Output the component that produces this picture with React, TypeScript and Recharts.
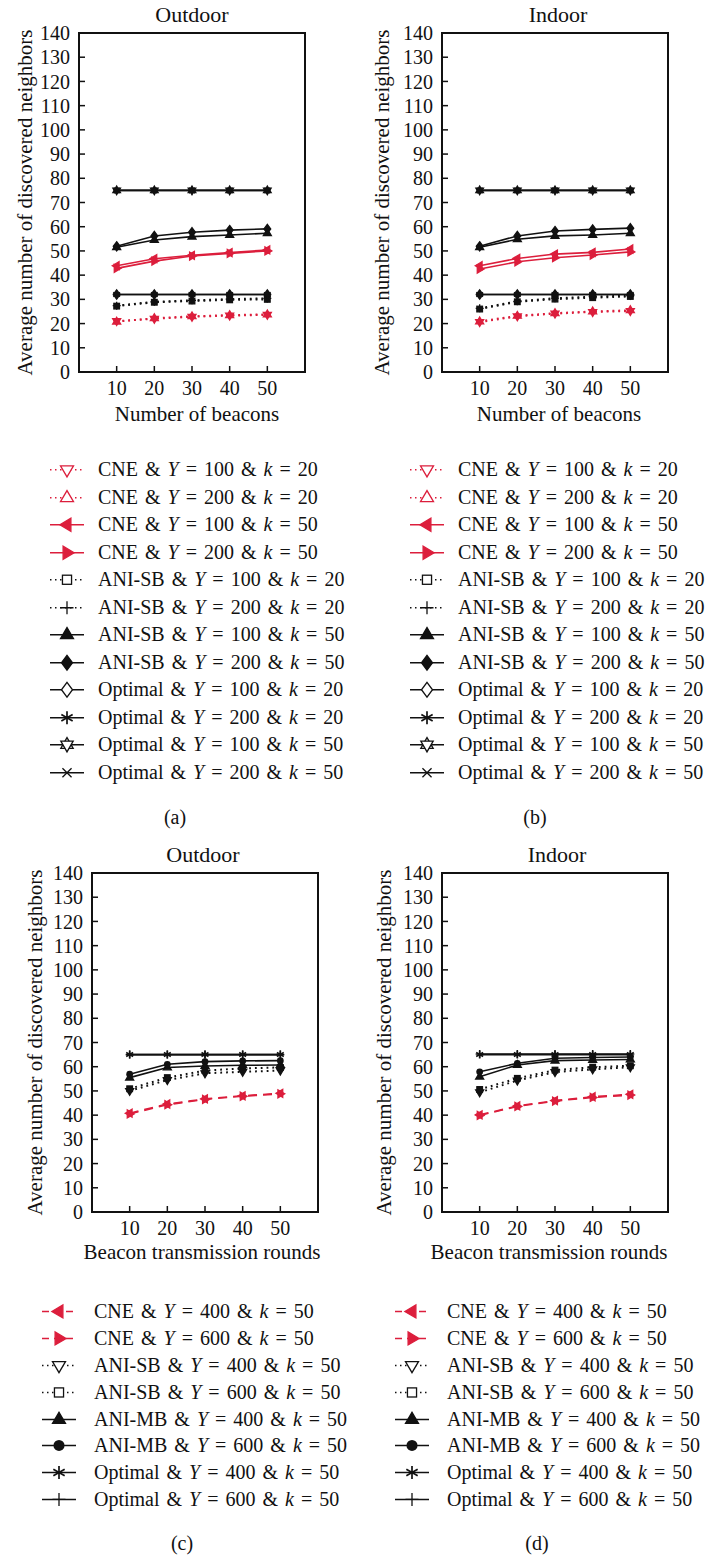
import React from 'react';
import { LineChart, Line, XAxis, YAxis, ReferenceArea, Legend, Label } from 'recharts';

const RED = '#dc1e3c';
const INK = '#111111';
const FONT = '"Liberation Serif", "Times New Roman", serif';

const beacons = [10, 20, 30, 40, 50];
const rounds = [10, 20, 30, 40, 50];
const yTicks = [0, 10, 20, 30, 40, 50, 60, 70, 80, 90, 100, 110, 120, 130, 140];

// (a) outdoor, vs number of beacons
const aCneY100k20 = [21.0, 22.0, 22.8, 23.3, 23.6];
const aCneY200k20 = [20.8, 22.2, 23.0, 23.5, 23.8];
const aCneY100k50 = [43.9, 46.8, 48.2, 49.3, 50.4];
const aCneY200k50 = [42.8, 45.8, 47.9, 49.0, 50.0];
const aAniY100k20 = [27.2, 28.8, 29.3, 29.8, 30.0];
const aAniY200k20 = [27.4, 29.0, 29.6, 30.1, 30.4];
const aAniY100k50 = [51.5, 54.5, 55.9, 56.6, 57.3];
const aAniY200k50 = [51.9, 56.2, 57.7, 58.6, 59.1];
const aOptY100k20 = [32, 32, 32, 32, 32];
const aOptY200k20 = [32, 32, 32, 32, 32];
const aOptY100k50 = [75, 75, 75, 75, 75];
const aOptY200k50 = [75, 75, 75, 75, 75];

// (b) indoor, vs number of beacons
const bCneY100k20 = [20.6, 23.0, 24.1, 24.8, 25.2];
const bCneY200k20 = [20.9, 23.2, 24.3, 25.0, 25.5];
const bCneY100k50 = [43.9, 46.9, 48.7, 49.4, 50.8];
const bCneY200k50 = [42.5, 45.5, 47.2, 48.3, 49.6];
const bAniY100k20 = [26.0, 29.0, 30.1, 30.7, 31.2];
const bAniY200k20 = [26.3, 29.2, 30.5, 31.1, 31.6];
const bAniY100k50 = [51.5, 54.8, 56.2, 56.6, 57.3];
const bAniY200k50 = [51.9, 56.2, 58.2, 58.9, 59.4];
const bOptY100k20 = [32, 32, 32, 32, 32];
const bOptY200k20 = [32, 32, 32, 32, 32];
const bOptY100k50 = [75, 75, 75, 75, 75];
const bOptY200k50 = [75, 75, 75, 75, 75];

// (c) outdoor, vs beacon transmission rounds
const cCneY400 = [40.8, 44.6, 46.7, 48.0, 49.0];
const cCneY600 = [40.5, 44.3, 46.5, 47.8, 48.8];
const cSbY400 = [50.0, 54.5, 57.3, 57.9, 58.4];
const cSbY600 = [50.9, 55.5, 58.4, 59.3, 59.7];
const cMbY400 = [55.5, 59.7, 60.3, 60.6, 60.7];
const cMbY600 = [56.9, 61.0, 62.1, 62.4, 62.5];
const cOptY400 = [65, 65, 65, 65, 65];
const cOptY600 = [65, 65, 65, 65, 65];

// (d) indoor, vs beacon transmission rounds
const dCneY400 = [40.1, 43.8, 46.0, 47.6, 48.6];
const dCneY600 = [39.9, 43.6, 45.8, 47.3, 48.3];
const dSbY400 = [49.4, 54.3, 57.8, 58.9, 59.8];
const dSbY600 = [50.6, 55.2, 58.6, 59.8, 60.4];
const dMbY400 = [55.9, 60.7, 62.5, 62.8, 63.0];
const dMbY600 = [57.9, 61.4, 63.5, 63.8, 64.0];
const dOptY400 = [65, 65, 65, 65, 65];
const dOptY600 = [65.2, 65.2, 65.2, 65.2, 65.2];

const methodsAB = ['CNE', 'CNE', 'CNE', 'CNE', 'ANI-SB', 'ANI-SB', 'ANI-SB', 'ANI-SB', 'Optimal', 'Optimal', 'Optimal', 'Optimal'];
const gammaAB = [100, 200, 100, 200, 100, 200, 100, 200, 100, 200, 100, 200];
const kAB = [20, 20, 50, 50, 20, 20, 50, 50, 20, 20, 50, 50];
const methodsCD = ['CNE', 'CNE', 'ANI-SB', 'ANI-SB', 'ANI-MB', 'ANI-MB', 'Optimal', 'Optimal'];
const gammaCD = [400, 600, 400, 600, 400, 600, 400, 600];
const kCD = [50, 50, 50, 50, 50, 50, 50, 50];

type Shape =
  | 'triDown' | 'triUp' | 'triUpFilled' | 'triLeft' | 'triRight' | 'square' | 'plus'
  | 'diamond' | 'diamondFilled' | 'asterisk' | 'hexagram' | 'cross' | 'circle';
type Dash = 'solid' | 'dot' | 'dash';
type SeriesStyle = { color: string; dash: Dash; shape: Shape };

const stylesAB: SeriesStyle[] = [
  { color: RED, dash: 'dot', shape: 'triDown' },
  { color: RED, dash: 'dot', shape: 'triUp' },
  { color: RED, dash: 'solid', shape: 'triLeft' },
  { color: RED, dash: 'solid', shape: 'triRight' },
  { color: INK, dash: 'dot', shape: 'square' },
  { color: INK, dash: 'dot', shape: 'plus' },
  { color: INK, dash: 'solid', shape: 'triUpFilled' },
  { color: INK, dash: 'solid', shape: 'diamondFilled' },
  { color: INK, dash: 'solid', shape: 'diamond' },
  { color: INK, dash: 'solid', shape: 'asterisk' },
  { color: INK, dash: 'solid', shape: 'hexagram' },
  { color: INK, dash: 'solid', shape: 'cross' },
];

const stylesCD: SeriesStyle[] = [
  { color: RED, dash: 'dash', shape: 'triLeft' },
  { color: RED, dash: 'dash', shape: 'triRight' },
  { color: INK, dash: 'dot', shape: 'triDown' },
  { color: INK, dash: 'dot', shape: 'square' },
  { color: INK, dash: 'solid', shape: 'triUpFilled' },
  { color: INK, dash: 'solid', shape: 'circle' },
  { color: INK, dash: 'solid', shape: 'asterisk' },
  { color: INK, dash: 'solid', shape: 'plus' },
];

const chartDash: Record<Dash, string | undefined> = { solid: undefined, dot: '1.8 4', dash: '9 6' };
const legendDash: Record<Dash, string | undefined> = { solid: undefined, dot: '1.5 3.5', dash: '7 5' };

function Marker({ shape, cx, cy, r, color, hollow }: { shape: Shape; cx: number; cy: number; r: number; color: string; hollow: string }) {
  const sw = 1.3;
  const poly = (pts: number[][], filled: boolean) => (
    <polygon
      points={pts.map((p) => `${cx + p[0] * r},${cy + p[1] * r}`).join(' ')}
      fill={filled ? color : hollow}
      stroke={color}
      strokeWidth={sw}
    />
  );
  switch (shape) {
    case 'triDown': return poly([[-1, -0.6], [1, -0.6], [0, 1.1]], false);
    case 'triUp': return poly([[-1, 0.6], [1, 0.6], [0, -1.1]], false);
    case 'triUpFilled': return poly([[-1, 0.6], [1, 0.6], [0, -1.1]], true);
    case 'triLeft': return poly([[-1.1, 0], [0.6, -1], [0.6, 1]], true);
    case 'triRight': return poly([[1.1, 0], [-0.6, -1], [-0.6, 1]], true);
    case 'diamond': return poly([[0, -1.15], [0.85, 0], [0, 1.15], [-0.85, 0]], false);
    case 'diamondFilled': return poly([[0, -1.15], [0.85, 0], [0, 1.15], [-0.85, 0]], true);
    case 'square':
      return <rect x={cx - 0.7 * r} y={cy - 0.7 * r} width={1.4 * r} height={1.4 * r} fill={hollow} stroke={color} strokeWidth={sw} />;
    case 'circle':
      return <circle cx={cx} cy={cy} r={0.85 * r} fill={color} />;
    case 'plus':
      return <path d={`M${cx - r},${cy}H${cx + r}M${cx},${cy - r}V${cy + r}`} stroke={color} strokeWidth={sw} />;
    case 'cross': {
      const a = 0.7 * r;
      return <path d={`M${cx - a},${cy - a}L${cx + a},${cy + a}M${cx - a},${cy + a}L${cx + a},${cy - a}`} stroke={color} strokeWidth={sw} />;
    }
    case 'asterisk': {
      const dx = 0.87 * r;
      const dy = 0.5 * r;
      return (
        <path
          d={`M${cx},${cy - r}V${cy + r}M${cx - dx},${cy - dy}L${cx + dx},${cy + dy}M${cx - dx},${cy + dy}L${cx + dx},${cy - dy}`}
          stroke={color}
          strokeWidth={sw + 0.4}
        />
      );
    }
    case 'hexagram':
      return (
        <g>
          {poly([[0, -1.1], [0.95, 0.55], [-0.95, 0.55]], false)}
          {poly([[0, 1.1], [0.95, -0.55], [-0.95, -0.55]], false)}
        </g>
      );
    default:
      return null;
  }
}

function LegendList({ styles, methods, gammas, ks, rowH, gap }: { styles: SeriesStyle[]; methods: string[]; gammas: number[]; ks: number[]; rowH: number; gap: number }) {
  return (
    <div style={{ fontFamily: FONT, fontSize: 20, color: INK }}>
      {styles.map((st, i) => (
        <div key={i} style={{ display: 'flex', alignItems: 'center', height: rowH, whiteSpace: 'nowrap' }}>
          <svg width={34} height={rowH} style={{ flex: 'none', marginRight: gap }}>
            <line x1={0} x2={34} y1={rowH / 2} y2={rowH / 2} stroke={st.color} strokeWidth={1.5} strokeDasharray={legendDash[st.dash]} />
            <Marker shape={st.shape} cx={17} cy={rowH / 2} r={6.5} color={st.color} hollow="#fff" />
          </svg>
          <span style={{ wordSpacing: 2 }}>
            {methods[i]}{' & '}<i>Y</i>{' = '}{gammas[i]}{' & '}<i>k</i>{' = '}{ks[i]}
          </span>
        </div>
      ))}
    </div>
  );
}

type Geo = {
  px: number; py: number; ch: number;
  plotL: number; plotR: number; plotT: number; plotB: number;
  titleX: number; titleY: number; yLabX: number; xLabX: number; xLabY: number;
  legL: number; legT: number; rowH: number; gap: number; capX: number; capY: number;
};

const CW = 354;
const YW = 60;
const XH = 30;

const geoA: Geo = { px: 0, py: 0, ch: 800, plotL: 79, plotR: 305, plotT: 33, plotB: 372, titleX: 192, titleY: 15, yLabX: 25, xLabX: 197, xLabY: 415, legL: 50, legT: 456, rowH: 27.5, gap: 14, capX: 175, capY: 817 };
const geoB: Geo = { px: 354, py: 0, ch: 800, plotL: 442, plotR: 668, plotT: 33, plotB: 372, titleX: 558, titleY: 15, yLabX: 382, xLabX: 559, xLabY: 415, legL: 410, legT: 456, rowH: 27.5, gap: 14, capX: 535, capY: 817 };
const geoC: Geo = { px: 0, py: 830, ch: 720, plotL: 92, plotR: 318, plotT: 873, plotB: 1212, titleX: 203, titleY: 855, yLabX: 35, xLabX: 202, xLabY: 1253, legL: 42, legT: 1298, rowH: 26.9, gap: 18, capX: 182, capY: 1543 };
const geoD: Geo = { px: 354, py: 830, ch: 720, plotL: 442, plotR: 668, plotT: 873, plotB: 1212, titleX: 557, titleY: 855, yLabX: 384, xLabX: 549, xLabY: 1253, legL: 395, legT: 1298, rowH: 26.9, gap: 18, capX: 537, capY: 1543 };

const tickStyle = { fill: INK, fontSize: 20, fontFamily: FONT };

function Panel({ geo, xs, series, styles, methods, gammas, ks, title, xTitle, caption }: {
  geo: Geo; xs: number[]; series: number[][]; styles: SeriesStyle[]; methods: string[]; gammas: number[]; ks: number[];
  title: string; xTitle: string; caption: string;
}) {
  const rows = xs.map((x, i) => {
    const r: Record<string, number> = { x };
    series.forEach((s, j) => { r[`s${j}`] = s[i]; });
    return r;
  });
  const margin = {
    top: geo.plotT - geo.py,
    left: geo.plotL - geo.px - YW,
    right: geo.px + CW - geo.plotR,
    bottom: geo.ch - (geo.plotB - geo.py) - XH,
  };
  const textBox = (cx: number, cy: number, size: number) => ({
    position: 'absolute' as const, left: cx - 150, top: cy - 12, width: 300, textAlign: 'center' as const,
    fontFamily: FONT, fontSize: size, lineHeight: '24px', color: INK,
  });
  return (
    <>
      <div style={textBox(geo.titleX, geo.titleY, 22)}>{title}</div>
      <div style={{ position: 'absolute', left: geo.px, top: geo.py }}>
        <LineChart width={CW} height={geo.ch} data={rows} margin={margin}>
          <ReferenceArea x1={0} x2={60} y1={0} y2={140} fill="none" stroke={INK} strokeWidth={2} />
          <XAxis
            dataKey="x" type="number" domain={[0, 60]} ticks={xs} interval={0} height={XH}
            axisLine={false} tickLine={{ stroke: INK, strokeWidth: 1.5 }} tickSize={-6} tickMargin={15} tick={tickStyle}
          >
            <Label
              content={() => {
                const x = geo.xLabX - geo.px;
                const y = geo.xLabY - geo.py + 6;
                return (
                  <text x={x} y={y} textAnchor="middle" fill={INK} fontSize={21} fontFamily={FONT}>
                    {xTitle}
                  </text>
                );
              }}
            />
          </XAxis>
          <YAxis
            domain={[0, 140]} ticks={yTicks} interval={0} width={YW}
            axisLine={false} tickLine={{ stroke: INK, strokeWidth: 1.5 }} tickSize={-6} tickMargin={15} tick={tickStyle}
          >
            <Label
              content={(p: any) => {
                const vb = p.viewBox;
                const x = geo.yLabX - geo.px;
                const y = vb ? vb.y + vb.height / 2 : (geo.plotT + geo.plotB) / 2 - geo.py;
                return (
                  <text x={x} y={y} transform={`rotate(-90, ${x}, ${y})`} textAnchor="middle" dominantBaseline="central" fill={INK} fontSize={21} fontFamily={FONT}>
                    Average number of discovered neighbors
                  </text>
                );
              }}
            />
          </YAxis>
          <YAxis
            yAxisId="r" orientation="right" domain={[0, 140]} ticks={yTicks} interval={0} width={0}
            axisLine={false} tickLine={{ stroke: INK, strokeWidth: 1.5 }} tickSize={-6} tickFormatter={() => ''}
          />
          {styles.map((st, j) => (
            <Line
              key={j}
              dataKey={`s${j}`}
              type="linear"
              stroke={st.color}
              strokeWidth={st.dash === 'dot' ? 2 : 1.6}
              strokeDasharray={chartDash[st.dash]}
              isAnimationActive={false}
              activeDot={false}
              dot={(p: any) => (
                <g key={`d${j}-${p.index}`}>
                  <Marker shape={st.shape} cx={p.cx} cy={p.cy} r={4} color={st.color} hollow={st.color} />
                </g>
              )}
            />
          ))}
          <Legend
            layout="vertical"
            align="center"
            verticalAlign="middle"
            wrapperStyle={{ left: geo.legL - geo.px, top: geo.legT - geo.py, width: 340 }}
            content={() => (
              <LegendList styles={styles} methods={methods} gammas={gammas} ks={ks} rowH={geo.rowH} gap={geo.gap} />
            )}
          />
        </LineChart>
      </div>
      <div style={textBox(geo.capX, geo.capY, 20)}>{caption}</div>
    </>
  );
}

export default function App() {
  return (
    <div style={{ position: 'absolute', left: 0, top: 0, width: 708, height: 1555, background: '#fff', overflow: 'hidden' }}>
      <Panel
        geo={geoA} xs={beacons}
        series={[aCneY100k20, aCneY200k20, aCneY100k50, aCneY200k50, aAniY100k20, aAniY200k20, aAniY100k50, aAniY200k50, aOptY100k20, aOptY200k20, aOptY100k50, aOptY200k50]}
        styles={stylesAB} methods={methodsAB} gammas={gammaAB} ks={kAB}
        title="Outdoor" xTitle="Number of beacons" caption="(a)"
      />
      <Panel
        geo={geoB} xs={beacons}
        series={[bCneY100k20, bCneY200k20, bCneY100k50, bCneY200k50, bAniY100k20, bAniY200k20, bAniY100k50, bAniY200k50, bOptY100k20, bOptY200k20, bOptY100k50, bOptY200k50]}
        styles={stylesAB} methods={methodsAB} gammas={gammaAB} ks={kAB}
        title="Indoor" xTitle="Number of beacons" caption="(b)"
      />
      <Panel
        geo={geoC} xs={rounds}
        series={[cCneY400, cCneY600, cSbY400, cSbY600, cMbY400, cMbY600, cOptY400, cOptY600]}
        styles={stylesCD} methods={methodsCD} gammas={gammaCD} ks={kCD}
        title="Outdoor" xTitle="Beacon transmission rounds" caption="(c)"
      />
      <Panel
        geo={geoD} xs={rounds}
        series={[dCneY400, dCneY600, dSbY400, dSbY600, dMbY400, dMbY600, dOptY400, dOptY600]}
        styles={stylesCD} methods={methodsCD} gammas={gammaCD} ks={kCD}
        title="Indoor" xTitle="Beacon transmission rounds" caption="(d)"
      />
    </div>
  );
}
